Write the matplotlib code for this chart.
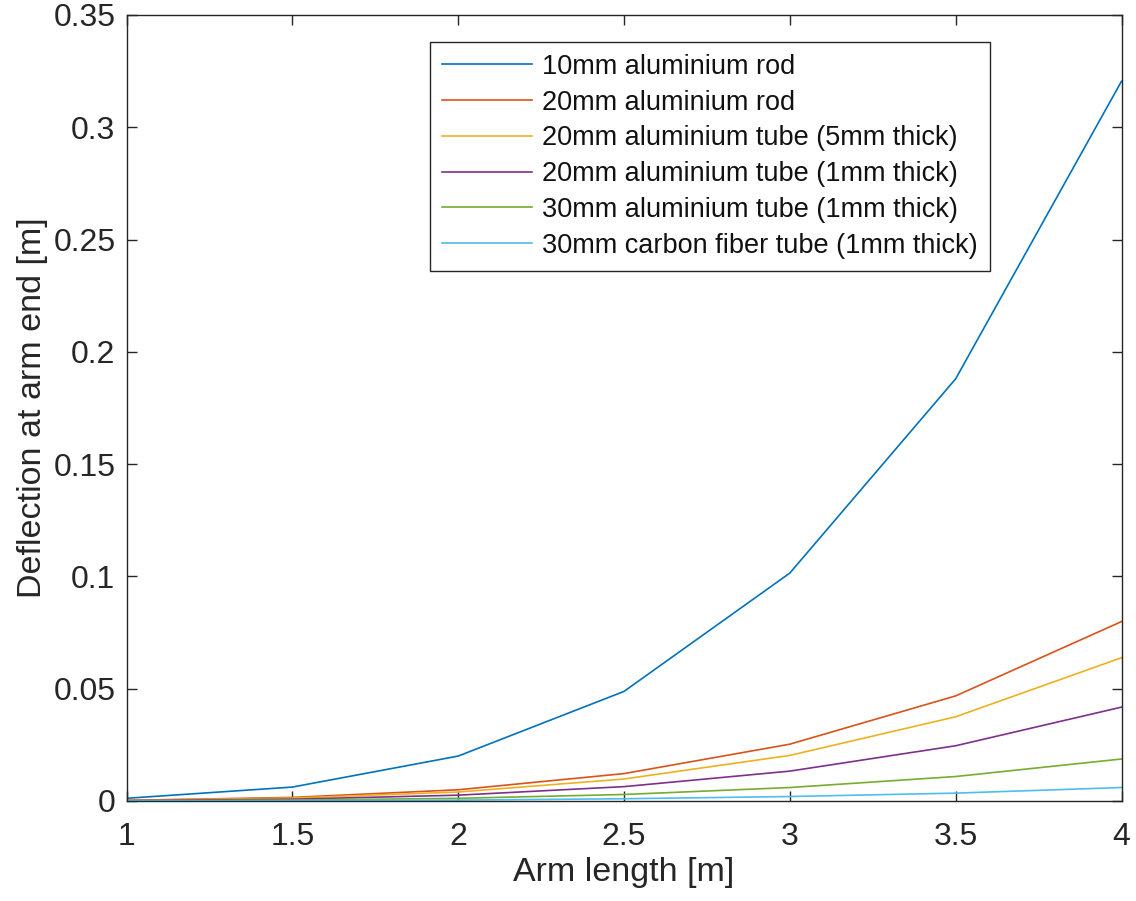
import matplotlib
matplotlib.use('Agg')
from matplotlib import pyplot as plt

# Arm lengths [m]
armLengths = [1.0, 1.5, 2.0, 2.5, 3.0, 3.5, 4.0]

# Deflection at arm end [m]
rod10 = [0.0012, 0.0062, 0.0200, 0.0488, 0.1015, 0.1880, 0.3205]
rod20 = [0.0003, 0.0016, 0.0050, 0.0122, 0.0253, 0.0468, 0.0799]
tube20thick5 = [0.00025, 0.0013, 0.0040, 0.0098, 0.0203, 0.0375, 0.0638]
tube20thick1 = [0.00016, 0.0008, 0.0026, 0.0064, 0.0133, 0.0246, 0.0418]
tube30alu = [0.00007, 0.0004, 0.0012, 0.0029, 0.0060, 0.0109, 0.0187]
tube30carbon = [0.00003, 0.00013, 0.0004, 0.0010, 0.0020, 0.0035, 0.0060]

seriesNames = ['10mm aluminium rod', '20mm aluminium rod',
               '20mm aluminium tube (5mm thick)', '20mm aluminium tube (1mm thick)',
               '30mm aluminium tube (1mm thick)', '30mm carbon fiber tube (1mm thick)']
allSeries = [rod10, rod20, tube20thick5, tube20thick1, tube30alu, tube30carbon]

# MATLAB default line colours
matlabColors = ['#0072BD', '#D95319', '#EDB120', '#7E2F8E', '#77AC30', '#4DBEEE']
axesColor = '#262626'

plt.rcParams['font.family'] = ['Liberation Sans', 'DejaVu Sans']

fig = plt.figure(figsize=(11.36, 9.01), dpi=100)
ax = fig.add_axes([126.5 / 1136, 100 / 901, 995 / 1136, 786 / 901])

for values, name, color in zip(allSeries, seriesNames, matlabColors):
    ax.plot(armLengths, values, color=color, linewidth=1.2, label=name)

ax.set_xlim(1, 4)
ax.set_ylim(0, 0.35)
ax.set_xticks([1, 1.5, 2, 2.5, 3, 3.5, 4])
ax.set_xticklabels(['1', '1.5', '2', '2.5', '3', '3.5', '4'])
ax.set_yticks([0, 0.05, 0.1, 0.15, 0.2, 0.25, 0.3, 0.35])
ax.set_yticklabels(['0', '0.05', '0.1', '0.15', '0.2', '0.25', '0.3', '0.35'])

# MATLAB-ish box with inward ticks on all sides
ax.tick_params(direction='in', length=7, width=1, colors=axesColor, labelsize=23,
               top=True, right=True, pad=8)
ax.tick_params(axis='x', pad=15)
for spine in ax.spines.values():
    spine.set_edgecolor(axesColor)
    spine.set_linewidth(1)

ax.set_xlabel('Arm length [m]', fontsize=24.5, color=axesColor, labelpad=4)
ax.set_ylabel('Deflection at arm end [m]', fontsize=24.5, color=axesColor, labelpad=4)

legend = ax.legend(loc='upper right', bbox_to_anchor=(0.868, 0.966), fontsize=19.5,
                   fancybox=False, framealpha=1, edgecolor=axesColor,
                   handlelength=3.3, handletextpad=0.4, labelspacing=0.36,
                   borderpad=0.45, borderaxespad=0)
legend.get_frame().set_linewidth(1)
for t in legend.get_texts():
    t.set_color('#111111')

fig.savefig('out.png', dpi=100, facecolor='white')
